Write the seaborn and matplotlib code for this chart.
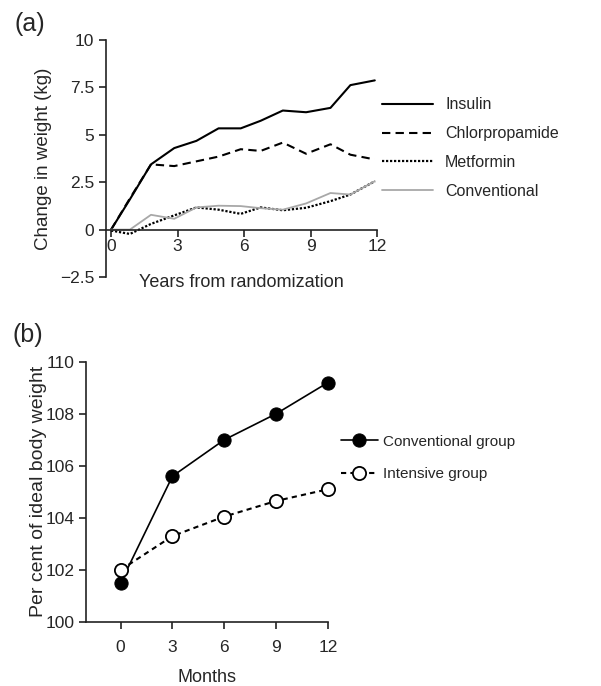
import matplotlib
matplotlib.use("Agg")
import matplotlib.pyplot as plt
import seaborn as sns

# panel (a): change in weight, years from randomization
years = [0, 0.85, 1.8, 2.85, 3.85, 4.85, 5.85, 6.75, 7.75, 8.8, 9.9, 10.8, 11.9]
insulin = [0, 1.6, 3.44, 4.3, 4.68, 5.34, 5.34, 5.74, 6.28, 6.19, 6.42, 7.62, 7.87]
chlorpropamide = [0, 1.65, 3.44, 3.35, 3.6, 3.85, 4.24, 4.15, 4.59, 4.0, 4.5, 3.95, 3.7]
metformin = [-0.05, -0.23, 0.3, 0.75, 1.17, 1.05, 0.83, 1.17, 1.02, 1.15, 1.5, 1.85, 2.55]
conventional = [0, 0, 0.78, 0.57, 1.17, 1.26, 1.24, 1.13, 1.05, 1.38, 1.93, 1.85, 2.55]

# panel (b): percent of ideal body weight, months
months = [0, 3, 6, 9, 12]
conv_group = [101.5, 105.6, 107.0, 108.0, 109.2]
intensive_group = [102.0, 103.3, 104.05, 104.65, 105.1]

a_yticks = [-2.5, 0, 2.5, 5, 7.5, 10]
a_yticklabels = ["\u22122.5", "0", "2.5", "5", "7.5", "10"]

sns.set_style("ticks")
plt.rcParams['font.family'] = ['Liberation Sans', 'DejaVu Sans']

fig = plt.figure(figsize=(6.01, 6.86), dpi=100)
W, H = 601, 686

# ---------- (a) ----------
ax1 = fig.add_axes([106 / W, 1 - 277 / H, 271 / W, 237 / H])
sns.lineplot(x=years, y=insulin, ax=ax1, color="black", lw=1.5, label="Insulin")
sns.lineplot(x=years, y=chlorpropamide, ax=ax1, color="black", lw=1.5,
             linestyle=(0, (4, 2.5)), label="Chlorpropamide")
sns.lineplot(x=years, y=metformin, ax=ax1, color="black", lw=1.6,
             linestyle=(0, (1, 0.8)), label="Metformin")
sns.lineplot(x=years, y=conventional, ax=ax1, color="#a8a8a8", lw=1.3,
             label="Conventional")

ax1.set_xlim(-0.23, 12)
ax1.set_ylim(-2.5, 10)
ax1.set_xticks([0, 3, 6, 9, 12])
ax1.set_yticks(a_yticks)
ax1.set_yticklabels(a_yticklabels)
ax1.spines['top'].set_visible(False)
ax1.spines['right'].set_visible(False)
ax1.spines['bottom'].set_position(('data', 0))
for s in ['left', 'bottom']:
    ax1.spines[s].set_linewidth(1.2)
    ax1.spines[s].set_color("#222222")
ax1.tick_params(axis='both', labelsize=12.5, length=5, width=1.2, color="#222222")
ax1.tick_params(axis='x', pad=2)
ax1.set_xlabel("Years from randomization", fontsize=13, va='top')
ax1.xaxis.set_label_coords(0.5, 0.012)
ax1.set_ylabel("Change in weight (kg)", fontsize=13.5)
ax1.yaxis.set_label_coords(-0.198, 0.5)
ax1.legend(loc='center left', bbox_to_anchor=(382 / W, 1 - 148 / H),
           bbox_transform=fig.transFigure, frameon=False, fontsize=11.5,
           handlelength=3.2, handletextpad=0.75, labelspacing=0.86,
           borderpad=0, borderaxespad=0)

fig.text(14 / W, 1 - 24 / H, "(a)", fontsize=18, va='center', ha='left')

# ---------- (b) ----------
ax2 = fig.add_axes([86 / W, 1 - 622 / H, 242 / W, 260.3 / H])
sns.lineplot(x=months, y=conv_group, ax=ax2, color="black", lw=1.2,
             marker='o', markersize=9.5, markerfacecolor="black",
             markeredgecolor="black", clip_on=False, label="Conventional group")
sns.lineplot(x=months, y=intensive_group, ax=ax2, color="black", lw=1.5,
             linestyle=(0, (2.5, 2)), marker='o', markersize=9.5,
             markerfacecolor="white", markeredgecolor="black",
             markeredgewidth=1.3, clip_on=False, label="Intensive group")

ax2.set_xlim(-2, 12)
ax2.set_ylim(100, 110)
ax2.set_xticks(months)
ax2.set_yticks([100, 102, 104, 106, 108, 110])
ax2.spines['top'].set_visible(False)
ax2.spines['right'].set_visible(False)
for s in ['left', 'bottom']:
    ax2.spines[s].set_linewidth(1.2)
    ax2.spines[s].set_color("#222222")
ax2.tick_params(axis='both', labelsize=12.5, length=5, width=1.2, color="#222222")
ax2.tick_params(axis='x', pad=8)
ax2.set_xlabel("Months", fontsize=13, va='top')
ax2.xaxis.set_label_coords(0.5, -0.18)
ax2.set_ylabel("Per cent of ideal body weight", fontsize=14)
ax2.yaxis.set_label_coords(-0.16, 0.5)
ax2.legend(loc='center left', bbox_to_anchor=(341 / W, 1 - 458 / H),
           bbox_transform=fig.transFigure, frameon=False, fontsize=11,
           handlelength=2.4, handletextpad=0.35, labelspacing=1.2,
           borderpad=0, borderaxespad=0)

fig.text(12 / W, 1 - 335 / H, "(b)", fontsize=18, va='center', ha='left')

fig.savefig("out.png", dpi=100)
